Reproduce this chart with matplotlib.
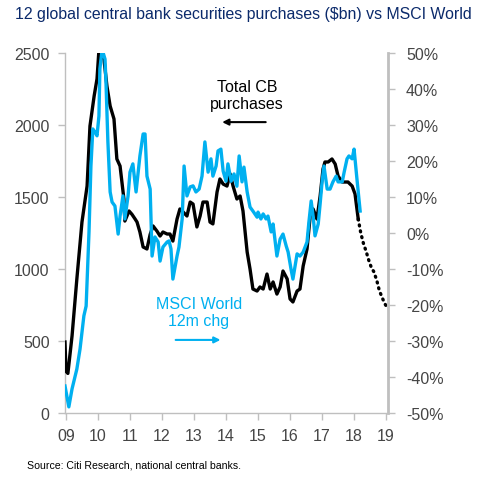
import matplotlib
matplotlib.use("Agg")
import matplotlib.pyplot as plt
from matplotlib.ticker import FuncFormatter

plt.rcParams['font.family'] = ['Liberation Sans', 'DejaVu Sans']

# ---- data ----
cb_years = [2008.97, 2009.00, 2009.06, 2009.19, 2009.34, 2009.50, 2009.66, 2009.75, 2009.88, 2009.97,
            2010.03, 2010.09, 2010.19, 2010.28, 2010.38, 2010.50, 2010.59, 2010.69, 2010.81, 2010.84,
            2010.97, 2011.06, 2011.16, 2011.22, 2011.31, 2011.41, 2011.53, 2011.63, 2011.72, 2011.84,
            2011.94, 2012.03, 2012.16, 2012.25, 2012.34, 2012.47, 2012.56, 2012.66, 2012.78, 2012.88,
            2012.97, 2013.09, 2013.19, 2013.28, 2013.41, 2013.50, 2013.59, 2013.72, 2013.81, 2013.91,
            2014.03, 2014.13, 2014.22, 2014.34, 2014.44, 2014.53, 2014.66, 2014.75, 2014.84, 2014.97,
            2015.06, 2015.16, 2015.28, 2015.38, 2015.47, 2015.59, 2015.69, 2015.78, 2015.91, 2016.00,
            2016.09, 2016.22, 2016.31, 2016.41, 2016.53, 2016.63, 2016.72, 2016.84, 2016.94, 2017.03,
            2017.09, 2017.19, 2017.31, 2017.41, 2017.50, 2017.63, 2017.81, 2017.94, 2018.03, 2018.13]
cb_values = [493, 290, 275, 535, 930, 1326, 1576, 1993, 2201, 2320,
             2520, 2560, 2450, 2270, 2132, 2042, 1764, 1715, 1486, 1333,
             1403, 1380, 1347, 1326, 1257, 1153, 1139, 1240, 1299, 1264,
             1229, 1257, 1243, 1243, 1194, 1347, 1417, 1396, 1368, 1465,
             1451, 1292, 1368, 1465, 1465, 1326, 1313, 1535, 1625, 1590,
             1576, 1660, 1576, 1486, 1507, 1403, 1118, 1000, 861, 847,
             875, 861, 965, 861, 910, 826, 875, 986, 931, 792,
             771, 847, 861, 1021, 1139, 1368, 1417, 1347, 1507, 1694,
             1743, 1743, 1764, 1729, 1646, 1604, 1604, 1576, 1521, 1347]

cb_fcst_years = [2018.13, 2018.21, 2018.29, 2018.38, 2018.46, 2018.54, 2018.62, 2018.71,
                 2018.79, 2018.88, 2018.96, 2019.06]
cb_fcst_values = [1347, 1250, 1180, 1120, 1060, 1010, 980, 920, 850, 800, 760, 720]

msci_years = [2008.97, 2009.09, 2009.19, 2009.34, 2009.44, 2009.56, 2009.63, 2009.72, 2009.78, 2009.84,
              2009.91, 2009.97, 2010.03, 2010.06, 2010.13, 2010.22, 2010.25, 2010.31, 2010.38, 2010.44,
              2010.53, 2010.63, 2010.69, 2010.78, 2010.84, 2010.94, 2011.00, 2011.09, 2011.19, 2011.31,
              2011.41, 2011.47, 2011.53, 2011.63, 2011.69, 2011.78, 2011.88, 2011.94, 2012.03, 2012.16,
              2012.22, 2012.28, 2012.34, 2012.47, 2012.53, 2012.63, 2012.69, 2012.78, 2012.88, 2012.97,
              2013.06, 2013.16, 2013.25, 2013.34, 2013.44, 2013.53, 2013.59, 2013.69, 2013.75, 2013.84,
              2013.91, 2014.00, 2014.06, 2014.16, 2014.25, 2014.34, 2014.41, 2014.50, 2014.56, 2014.66,
              2014.75, 2014.84, 2014.97, 2015.00, 2015.09, 2015.16, 2015.25, 2015.31, 2015.41, 2015.47,
              2015.59, 2015.69, 2015.78, 2015.88, 2015.94, 2016.03, 2016.09, 2016.22, 2016.31, 2016.41,
              2016.53, 2016.59, 2016.66, 2016.72, 2016.78, 2016.88, 2016.94, 2017.00, 2017.06, 2017.16,
              2017.25, 2017.34, 2017.44, 2017.50, 2017.63, 2017.69, 2017.78, 2017.84, 2017.94, 2018.00,
              2018.09, 2018.19]
msci_values = [-42.5, -48.3, -43.3, -37.8, -32.2, -23.0, -20.3, 0.3, 18.6, 28.9,
               28.0, 27.0, 32.5, 45.6, 51.0, 48.3, 41.9, 25.3, 11.4, 8.6,
               7.5, -0.3, 4.7, 10.3, 3.9, 10.3, 16.9, 19.2, 11.4, 21.4,
               27.5, 27.5, 15.8, 12.2, -6.4, -1.1, -2.5, -7.8, -3.9, -2.5,
               -2.2, -4.4, -12.8, -6.4, -3.9, 3.9, 18.6, 10.3, 12.8, 13.1,
               11.4, 12.2, 15.8, 25.3, 16.9, 20.6, 15.8, 18.6, 22.8, 23.3,
               17.2, 14.4, 19.2, 14.4, 16.4, 13.0, 21.4, 14.2, 18.3, 11.4,
               7.2, 6.1, 4.4, 5.8, 3.9, 5.3, 3.9, 4.7, 0.3, 2.5,
               -6.4, -1.7, -0.3, -3.6, -5.3, -10.0, -12.8, -5.8, -6.4, -5.3,
               -2.5, 3.1, 8.9, 4.7, -0.8, 2.5, 8.1, 14.2, 18.6, 12.2,
               12.2, 14.2, 15.8, 14.2, 14.2, 16.9, 20.6, 21.4, 20.6, 23.3,
               15.0, 6.1]

year_ticks = list(range(2009, 2020))
year_labels = ['09', '10', '11', '12', '13', '14', '15', '16', '17', '18', '19']
left_ticks = [0, 500, 1000, 1500, 2000, 2500]
right_ticks = [-50, -40, -30, -20, -10, 0, 10, 20, 30, 40, 50]

# ---- style ----
BLACK = '#000000'
CYAN = '#00B0F0'
TICKC = '#454545'
SPINE = '#BFBFBF'
TITLEC = '#0B2A6B'
FS = 11.5

fig = plt.figure(figsize=(4.82, 4.85), dpi=100)
ax = fig.add_axes([65/482, 1-414/485, (388-65)/482, (414-54)/485])
ax2 = ax.twinx()

ax.plot(cb_years, cb_values, color=BLACK, lw=2.4, solid_joinstyle='round', zorder=3)
ax.plot(cb_fcst_years, cb_fcst_values, color=BLACK, lw=2.4,
        linestyle=(0, (0.3, 1.5)), dash_capstyle='round', zorder=3)
ax2.plot(msci_years, msci_values, color=CYAN, lw=2.4, solid_joinstyle='round', zorder=3)

ax.set_xlim(2008.97, 2019.06)
ax.set_ylim(0, 2500)
ax2.set_ylim(-50, 50)

ax.set_xticks(year_ticks)
ax.set_xticklabels(year_labels)
ax.set_yticks(left_ticks)
ax2.set_yticks(right_ticks)
ax2.yaxis.set_major_formatter(FuncFormatter(lambda v, p: f'{int(v)}%'))

for a in (ax, ax2):
    a.spines['top'].set_visible(False)
    for s in ('left', 'right', 'bottom'):
        a.spines[s].set_color(SPINE)
    a.tick_params(colors=SPINE, labelcolor=TICKC, labelsize=FS, length=5, width=1)
ax.spines['right'].set_visible(False)
ax2.spines['left'].set_visible(False)
ax2.spines['bottom'].set_visible(False)
ax.spines['left'].set_linewidth(1.0)
ax.spines['bottom'].set_linewidth(1.0)
ax2.spines['right'].set_linewidth(2.0)
ax.tick_params(axis='y', pad=6)
ax.tick_params(axis='x', pad=6)
ax2.tick_params(axis='y', pad=8)

# annotations
ax.text(0.563, 0.883, 'Total CB\npurchases', transform=ax.transAxes, ha='center', va='center',
        fontsize=FS, color=BLACK, linespacing=1.15)
ax.annotate('', xy=(0.478, 0.808), xycoords='axes fraction',
            xytext=(0.63, 0.808), textcoords='axes fraction',
            arrowprops=dict(arrowstyle='-|>', color=BLACK, lw=1.5, mutation_scale=9))
ax.text(0.415, 0.281, 'MSCI World\n12m chg', transform=ax.transAxes, ha='center', va='center',
        fontsize=FS, color=CYAN, linespacing=1.15)
ax.annotate('', xy=(0.49, 0.203), xycoords='axes fraction',
            xytext=(0.334, 0.203), textcoords='axes fraction',
            arrowprops=dict(arrowstyle='-|>', color=CYAN, lw=1.5, mutation_scale=9))

fig.text(15/482, 1-14/485, '12 global central bank securities purchases ($bn) vs MSCI World',
         ha='left', va='center', fontsize=11.4, color=TITLEC)
fig.text(27/482, 1-466/485, 'Source: Citi Research, national central banks.',
         ha='left', va='center', fontsize=7.6, color='#000000')

fig.savefig('out.png', dpi=100)
